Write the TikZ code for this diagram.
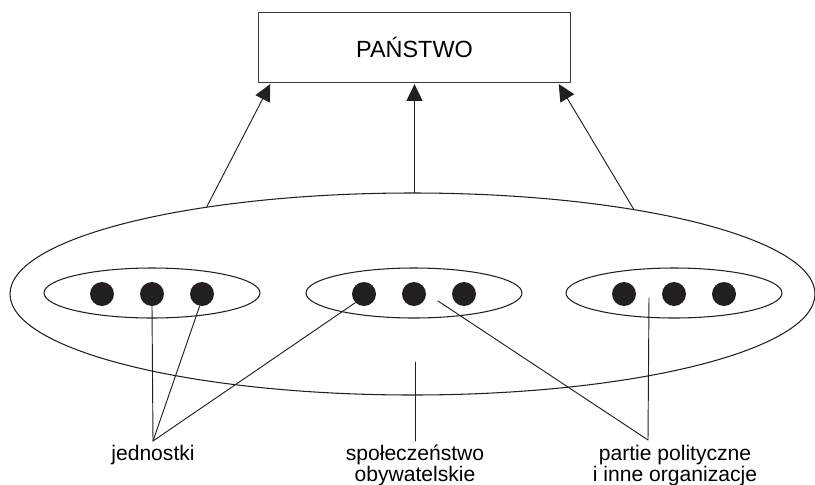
\documentclass[tikz,border=0pt]{standalone}
\usepackage{fontspec}
\setmainfont{Liberation Sans}
\usetikzlibrary{shapes.geometric,arrows.meta}
\definecolor{Ink}{HTML}{231F20}
\definecolor{FrameGray}{HTML}{3A3A3A}

\begin{document}
\begin{tikzpicture}[x=0.3mm,y=-0.3mm,line cap=round,line join=round,
  statebox/.style={draw=FrameGray,line width=0.9pt,minimum width=93.8mm,minimum height=21.2mm,inner sep=0pt,font=\fontsize{20}{24}\selectfont},
  bigoval/.style={draw=Ink,ellipse,line width=0.9pt,minimum width=241.5mm,minimum height=60.6mm,inner sep=0pt},
  oval/.style={draw=Ink,ellipse,line width=0.9pt,minimum width=64.8mm,minimum height=15mm,inner sep=0pt},
  dot/.style={circle,fill=Ink,minimum size=7.2mm,inner sep=0pt},
  desc/.style={anchor=north,align=center,inner sep=3pt,font=\fontsize{18}{18.4}\selectfont},
  link/.style={draw=Ink,line width=0.8pt},
  arr/.style={link,-{Triangle[length=5mm,width=4.8mm]},shorten >=0.6pt}]
  \useasboundingbox (0,0) rectangle (815,485);
  \node[statebox] (state) at (414.5,47.6) {PAŃSTWO};
  \node[bigoval] (society) at (412.5,294) {};
  \foreach \g/\x in {1/152,2/414,3/674}{
    \node[oval] (g\g) at (\x,293) {};
    \foreach \i/\dx in {1/-50,2/0,3/50}
      \node[dot] (d\g\i) at (\x+\dx,294) {};
  }
  % arrows from the outer oval up to the box
  \draw[arr] (society.157.5) -- (state.-166);
  \draw[arr] (state.south |- society.north) -- (state.south);
  \draw[arr] (society.21.8) -- (state.-14);
  % captions and their pointers
  \node[desc] (lind) at (153,441) {jednostki};
  \node[desc] (lsoc) at (415,441) {społeczeństwo\\obywatelskie};
  \node[desc] (lpart) at (675,441) {partie polityczne\\i inne organizacje};
  \draw[link] (lind.north) -- (d12.south);
  \draw[link] (lind.north) -- (d13.-101);
  \draw[link] (lind.north) -- (d21.-135);
  \coordinate (sinner) at (415,362);
  \draw[link] (sinner) -- (lsoc.north);
  \coordinate (pjoin) at (648,440);
  \coordinate (pmid) at (438,301);
  \coordinate (pright) at (649,298);
  \draw[link] (pjoin) -- (pmid);
  \draw[link] (pjoin) -- (pright);
\end{tikzpicture}
\end{document}
